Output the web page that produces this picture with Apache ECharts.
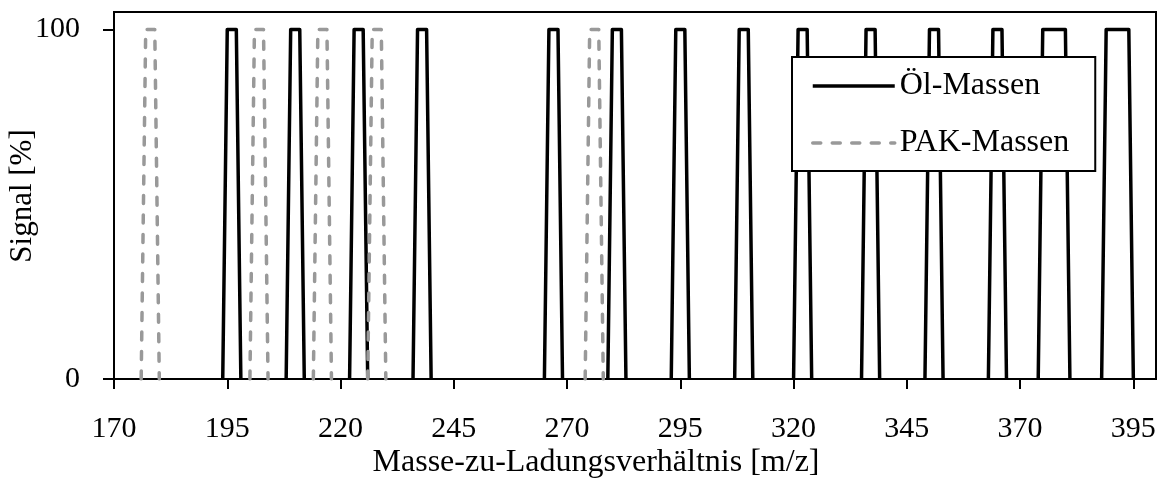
<!DOCTYPE html>
<html>
<head>
<meta charset="utf-8">
<script src="https://cdn.jsdelivr.net/npm/echarts@6/dist/echarts.min.js"></script>
<style>
  html, body { margin: 0; padding: 0; background: #fff; }
  #chart { width: 1163px; height: 488px; }
</style>
</head>
<body>
<div id="chart"></div>
<script>
// m/z points of each window (0 -> 100 -> 100 -> 0), one group of four per peak
var oilMz = [194, 195, 197, 198,  208, 209, 211, 212,  222, 223, 225, 226,  236, 237, 239, 240,
             265, 266, 268, 269,  279, 280, 282, 283,  293, 294, 296, 297,  307, 308, 310, 311,
             320, 321, 323, 324,  335, 336, 338, 339,  349, 350, 352, 353,  363, 364, 366, 367,
             374, 375, 380, 381,  388, 389, 394, 395];
var oilSignal = [0, 100, 100, 0,  0, 100, 100, 0,  0, 100, 100, 0,  0, 100, 100, 0,
                 0, 100, 100, 0,  0, 100, 100, 0,  0, 100, 100, 0,  0, 100, 100, 0,
                 0, 100, 100, 0,  0, 100, 100, 0,  0, 100, 100, 0,  0, 100, 100, 0,
                 0, 100, 100, 0,  0, 100, 100, 0];
var pakMz = [176, 177, 179, 180,  200, 201, 203, 204,  214, 215, 217, 218,  226, 227, 229, 230,
             274, 275, 277, 278];
var pakSignal = [0, 100, 100, 0,  0, 100, 100, 0,  0, 100, 100, 0,  0, 100, 100, 0,
                 0, 100, 100, 0];
var xTicks = [170, 195, 220, 245, 270, 295, 320, 345, 370, 395];
var yTicks = [0, 100];

var FONT = 'Liberation Serif';
var oilLine = { color: '#000', width: 3.5, join: 'round' };
var pakLine = { color: '#999', width: 3.5, type: [8, 11.5], cap: 'round', join: 'round' };

// split the points into separate windows so the line doesn't run along the axis
function toPeaks(mz, signal) {
  var out = [];
  for (var i = 0; i < mz.length; i++) {
    out.push([mz[i], signal[i]]);
    if (i % 4 === 3 && i < mz.length - 1) out.push([mz[i], '-']);
  }
  return out;
}

var myChart = echarts.init(document.getElementById('chart'));
var option = {
  animation: false,
  grid: {
    left: 114, right: 7, top: 12, bottom: 109,
    show: true, borderColor: '#000', borderWidth: 2
  },
  legend: {
    orient: 'vertical',
    left: 792, top: 57,
    padding: [13, 26, 12, 19],
    itemGap: 25,
    itemWidth: 82, itemHeight: 32,
    backgroundColor: '#fff',
    borderColor: '#000', borderWidth: 2, borderRadius: 0,
    itemStyle: { opacity: 0 },
    textStyle: { fontFamily: FONT, fontSize: 32, color: '#000', lineHeight: 32 },
    data: [
      { name: 'Öl-Massen', lineStyle: oilLine },
      { name: 'PAK-Massen', lineStyle: pakLine }
    ]
  },
  xAxis: {
    type: 'value',
    min: 170, max: 400,
    axisLine: { lineStyle: { color: '#000', width: 2 } },
    axisTick: { show: true, customValues: xTicks, length: 10, lineStyle: { color: '#000', width: 2 } },
    axisLabel: { customValues: xTicks, fontFamily: FONT, fontSize: 30, color: '#000', margin: 35 },
    splitLine: { show: false }
  },
  yAxis: {
    type: 'value',
    min: 0, max: 105,
    axisLine: { show: true, lineStyle: { color: '#000', width: 2 } },
    axisTick: { show: true, customValues: yTicks, length: 11, lineStyle: { color: '#000', width: 2 } },
    axisLabel: { customValues: yTicks, fontFamily: FONT, fontSize: 30, color: '#000', margin: 34 },
    splitLine: { show: false }
  },
  graphic: [
    {
      type: 'text', x: 596, y: 463,
      style: { text: 'Masse-zu-Ladungsverhältnis [m/z]', font: '32px "Liberation Serif"',
               fill: '#000', textAlign: 'center', textVerticalAlign: 'middle' }
    },
    {
      type: 'text', x: 23, y: 196, rotation: Math.PI / 2,
      style: { text: 'Signal [%]', font: '31px "Liberation Serif"',
               fill: '#000', textAlign: 'center', textVerticalAlign: 'middle' }
    }
  ],
  series: [
    {
      name: 'Öl-Massen',
      type: 'line',
      symbol: 'none',
      data: toPeaks(oilMz, oilSignal),
      lineStyle: oilLine,
      itemStyle: { color: '#000' }
    },
    {
      name: 'PAK-Massen',
      type: 'line',
      symbol: 'none',
      data: toPeaks(pakMz, pakSignal),
      lineStyle: pakLine,
      itemStyle: { color: '#999' }
    }
  ]
};
myChart.setOption(option);
window.addEventListener('resize', function() {
  myChart.resize();
});
</script>
</body>
</html>
